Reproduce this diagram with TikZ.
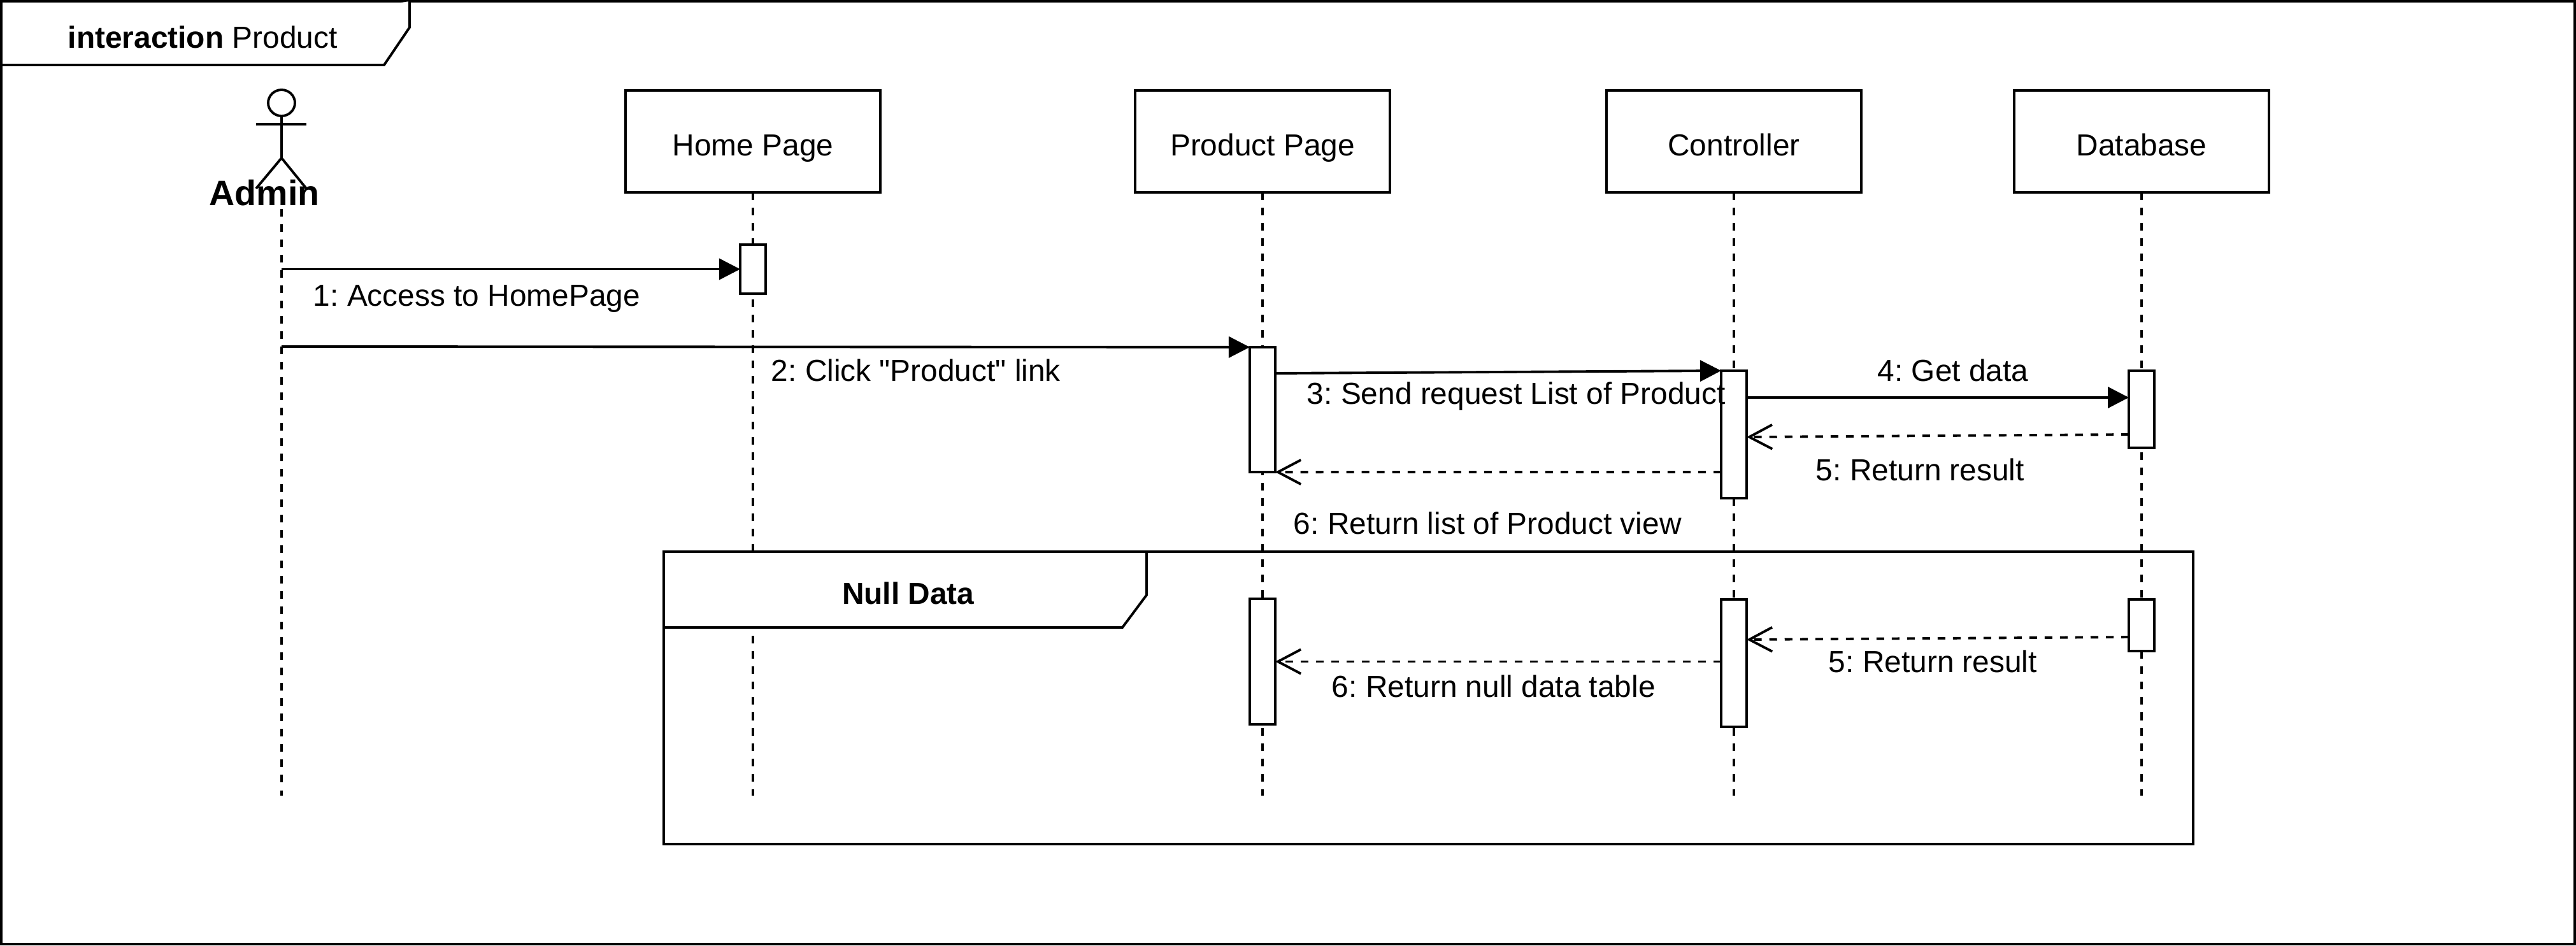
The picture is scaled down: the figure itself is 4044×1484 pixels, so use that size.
\documentclass[tikz,border=0pt]{standalone}
\usepackage{fontspec}
\newfontfamily\arialfont{Liberation Sans}
\usetikzlibrary{arrows.meta,shapes.geometric}

\tikzset{
lifebox/.style={draw,fill=white,minimum width=4cm,minimum height=1.6cm,inner sep=0pt,outer sep=0pt,text height=0.44cm,text depth=0pt},
actbox/.style={draw,fill=white,minimum width=0.4cm,inner sep=0pt,outer sep=0pt},
lifeline/.style={dash pattern=on 0.12cm off 0.12cm},
callmsg/.style={-{Triangle[length=0.33cm,width=0.33cm]}},
retmsg/.style={dash pattern=on 0.12cm off 0.12cm,-{Straight Barb[length=0.36cm,width=0.38cm]}},
msglabel/.style={anchor=base west,inner sep=0pt},
}

\begin{document}
\begin{tikzpicture}[x=0.01cm,y=-0.01cm,line width=1.1pt,font=\arialfont\frenchspacing\fontsize{13.6}{16}\selectfont]
\useasboundingbox (0,0) rectangle (4044,1484);
\draw (2,2) rectangle (4042,1482);
\draw[fill=white] (2,102) -- (603,102) -- (643,43) -- (643,2);
\node[msglabel] (title) at (105,75) {\textbf{interaction} Product};

\node[lifebox] (home) at (1182,222) {Home Page};
\node[lifebox] (product) at (1982,222) {Product Page};
\node[lifebox] (controller) at (2722,222) {Controller};
\node[lifebox] (database) at (3362,222) {Database};

% actor
\node[draw,ellipse,minimum width=0.42cm,minimum height=0.41cm,inner sep=0pt,outer sep=0pt] (head) at (442,161.5) {};
\coordinate (neck) at (442,248);
\coordinate (armL) at (402,195);
\coordinate (armR) at (481,195);
\coordinate (legL) at (402,296);
\coordinate (legR) at (481,296);
\draw (head) -- (neck);
\draw (armL) -- (armR);
\draw (legL) -- (neck) -- (legR);
\node[inner sep=0pt,anchor=base] (admin) at (415,322) {\fontsize{15.8}{18}\selectfont\textbf{Admin}};

\coordinate (adminTop) at (442,328);
\coordinate (adminEnd) at (442,1249);
\coordinate (homeEnd) at (1182,1249);
\coordinate (productEnd) at (1982,1249);
\coordinate (controllerEnd) at (2722,1249);
\coordinate (databaseEnd) at (3362,1249);
\draw[lifeline] (adminTop) -- (adminEnd);
\draw[lifeline] (home) -- (homeEnd);
\draw[lifeline] (product) -- (productEnd);
\draw[lifeline] (controller) -- (controllerEnd);
\draw[lifeline] (database) -- (databaseEnd);

% null data frame
\draw (1042,866) rectangle (3443,1325);
\draw[fill=white] (1042,985) -- (1762,985) -- (1800,934) -- (1800,866) -- (1042,866) -- cycle;
\node[inner sep=0pt] (nulldata) at (1426,931) {\textbf{Null Data}};

\node[actbox,minimum height=0.77cm] (a1) at (1182,422.5) {};
\node[actbox,minimum height=1.96cm] (p1) at (1982,643) {};
\node[actbox,minimum height=2cm] (c1) at (2722,682) {};
\node[actbox,minimum height=1.21cm] (d1) at (3362,642.5) {};
\node[actbox,minimum height=1.97cm] (p2) at (1982,1038.5) {};
\node[actbox,minimum height=2cm] (c2) at (2722,1041) {};
\node[actbox,minimum height=0.81cm] (d2) at (3362,981.5) {};

\coordinate (m1) at (442,422.5);
\coordinate (m2) at (442,544);
\coordinate (m3) at (2002,586);
\coordinate (m4a) at (2742,624);
\coordinate (m4b) at (3342,624);
\coordinate (m5a) at (3342,682);
\coordinate (m5b) at (2742,686);
\coordinate (m6) at (2702,741);
\coordinate (m7a) at (3342,1000);
\coordinate (m7b) at (2742,1004);
\coordinate (m8) at (2702,1038.5);

\draw[callmsg] (m1) -- (a1);
\draw[callmsg] (m2) -- (p1.north west);
\draw[callmsg] (m3) -- (c1.north west);
\draw[callmsg] (m4a) -- (m4b);
\draw[retmsg] (m5a) -- (m5b);
\draw[retmsg] (m6) -- (p1.south east);
\draw[retmsg] (m7a) -- (m7b);
\draw[retmsg] (m8) -- (p2);

\node[msglabel] (t1) at (490,480) {1: Access to HomePage};
\node[msglabel] (t2) at (1209,598) {2: Click "Product" link};
\node[msglabel] (t3) at (2050,634) {3: Send request List of Product};
\node[msglabel,anchor=base] (t4) at (3066,598) {4: Get data};
\node[msglabel] (t5) at (2849,754) {5: Return result};
\node[msglabel] (t6) at (2029,838) {6: Return list of Product view};
\node[msglabel] (t7) at (2869,1055) {5: Return result};
\node[msglabel] (t8) at (2089,1094) {6: Return null data table};
\end{tikzpicture}
\end{document}
